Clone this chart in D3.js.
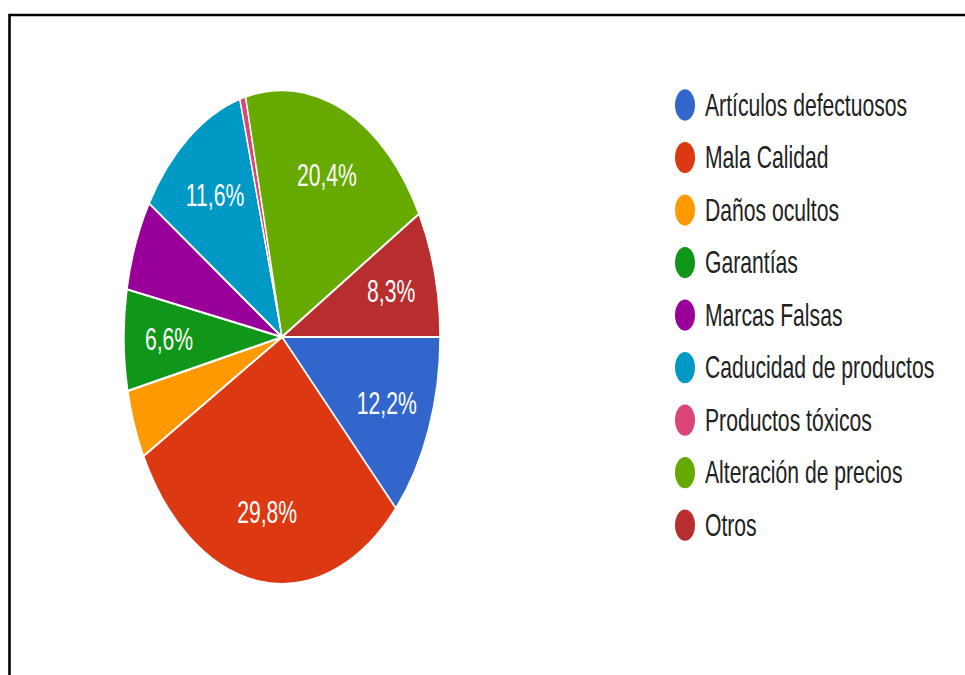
<!DOCTYPE html>
<html>
<head>
<meta charset="utf-8">
<script src="https://cdn.jsdelivr.net/npm/d3@7"></script>
<style>
  html, body { margin: 0; padding: 0; background: #fff; }
  svg { display: block; }
  text { font-family: "Liberation Sans", Arial, sans-serif; }
</style>
</head>
<body>
<svg id="chart" width="965" height="675"></svg>
<script>
// Categories, their shares (%) and slice colours
const categories = [
  "Artículos defectuosos",
  "Mala Calidad",
  "Daños ocultos",
  "Garantías",
  "Marcas Falsas",
  "Caducidad de productos",
  "Productos tóxicos",
  "Alteración de precios",
  "Otros"
];
const values = [12.2, 29.8, 4.5, 6.6, 6.0, 11.6, 0.6, 20.4, 8.3];
const colors = ["#3366cc", "#dc3912", "#ff9900", "#109618", "#990099",
                "#0099c6", "#dd4477", "#66aa00", "#b82e2e"];

const W = 965, H = 675;
const stretchY = 1.563;          // the chart is drawn taller than wide
const textScaleX = 1.085;        // glyphs are slightly widened as well
const radius = 158;
const labelRadius = 113;
const minLabelValue = 6.5;       // smaller slices carry no label

const data = categories.map((c, i) => ({ name: c, value: values[i] }));
const color = d3.scaleOrdinal().domain(categories).range(colors);

const svg = d3.select("#chart");

// Frame lines (top and left)
svg.append("path")
  .attr("d", "M9.5," + H + " V15 H" + W)
  .attr("fill", "none")
  .attr("stroke", "#000")
  .attr("stroke-width", 2.6);

// Pie
const pie = d3.pie()
  .sort(null)
  .value(d => d.value)
  .startAngle(Math.PI / 2)
  .endAngle(Math.PI / 2 + 2 * Math.PI);

const arc = d3.arc().innerRadius(0).outerRadius(radius);
const labelArc = d3.arc().innerRadius(labelRadius).outerRadius(labelRadius);

const gPie = svg.append("g")
  .attr("transform", `translate(282,337) scale(1,${stretchY})`);

const arcs = pie(data);

gPie.selectAll("path.slice")
  .data(arcs)
  .join("path")
  .attr("class", "slice")
  .attr("d", arc)
  .attr("fill", d => color(d.data.name))
  .attr("stroke", "#fff")
  .attr("stroke-width", 1.4)
  .attr("stroke-linejoin", "round");

const fmt = v => d3.format(".1f")(v).replace(".", ",") + "%";

gPie.selectAll("text.pct")
  .data(arcs.filter(d => d.data.value >= minLabelValue))
  .join("text")
  .attr("class", "pct")
  .attr("transform", d => {
    const [cx, cy] = labelArc.centroid(d);
    return `translate(${cx},${cy}) scale(${textScaleX},1)`;
  })
  .attr("dy", "0.355em")
  .attr("text-anchor", "middle")
  .attr("fill", "#fff")
  .attr("font-size", 19.5)
  .text(d => fmt(d.data.value));

// Legend
const rowStep = 33.6;
const gLegend = svg.append("g")
  .attr("transform", `translate(685,105) scale(1,${stretchY})`);

const rows = gLegend.selectAll("g.row")
  .data(data)
  .join("g")
  .attr("class", "row")
  .attr("transform", (d, i) => `translate(0,${i * rowStep})`);

rows.append("circle")
  .attr("r", 10)
  .attr("fill", d => color(d.name));

rows.append("text")
  .attr("transform", `translate(20,0) scale(${textScaleX},1)`)
  .attr("dy", "0.355em")
  .attr("fill", "#222")
  .attr("font-size", 19.5)
  .text(d => d.name);
</script>
</body>
</html>
